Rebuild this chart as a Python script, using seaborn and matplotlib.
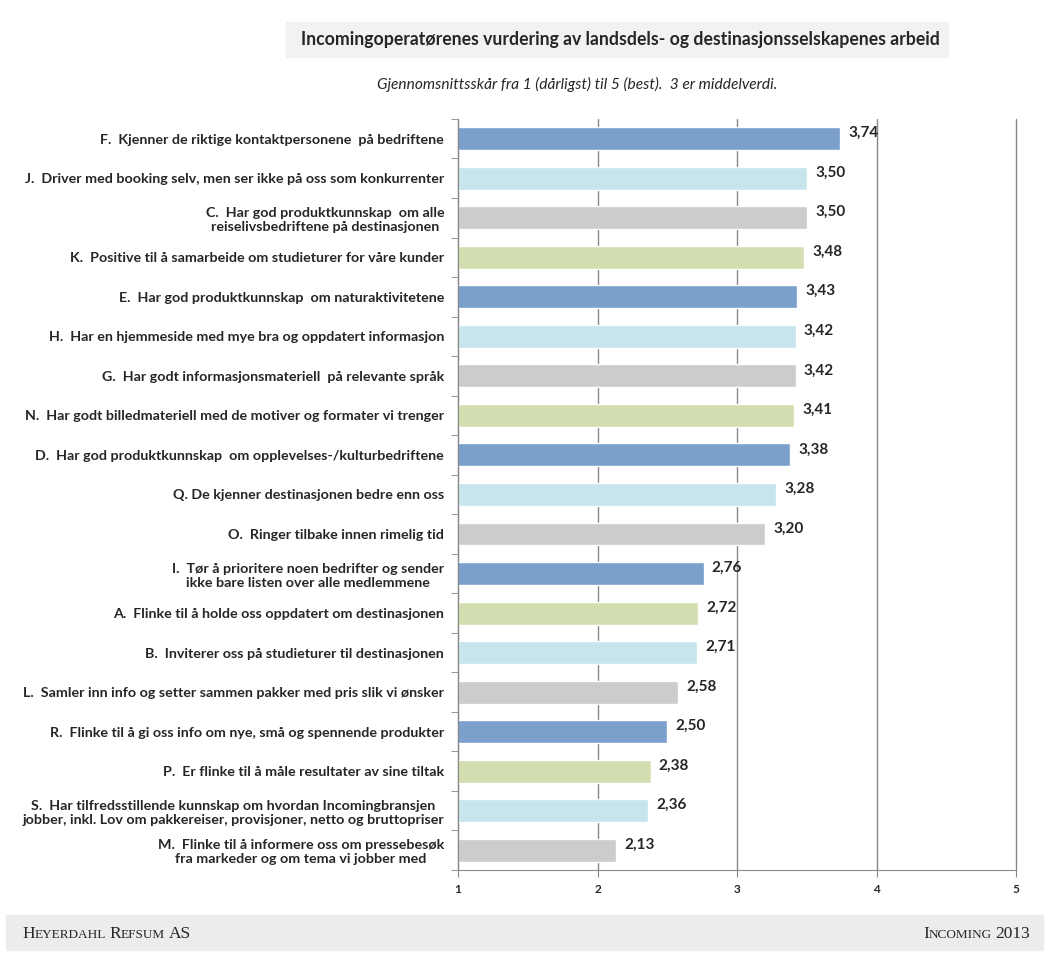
import matplotlib.pyplot as plt
from matplotlib.patches import Rectangle
from matplotlib.ticker import FixedLocator
import seaborn as sns
import pandas as pd
import numpy as np

labels = [
    "F.  Kjenner de riktige kontaktpersonene  på bedriftene",
    "J.  Driver med booking selv, men ser ikke på oss som konkurrenter",
    "C.  Har god produktkunnskap  om alle\nreiselivsbedriftene på destinasjonen",
    "K.  Positive til å samarbeide om studieturer for våre kunder",
    "E.  Har god produktkunnskap  om naturaktivitetene",
    "H.  Har en hjemmeside med mye bra og oppdatert informasjon",
    "G.  Har godt informasjonsmateriell  på relevante språk",
    "N.  Har godt billedmateriell med de motiver og formater vi trenger",
    "D.  Har god produktkunnskap  om opplevelses-/kulturbedriftene",
    "Q. De kjenner destinasjonen bedre enn oss",
    "O.  Ringer tilbake innen rimelig tid",
    "I.  Tør å prioritere noen bedrifter og sender\nikke bare listen over alle medlemmene",
    "A.  Flinke til å holde oss oppdatert om destinasjonen",
    "B.  Inviterer oss på studieturer til destinasjonen",
    "L.  Samler inn info og setter sammen pakker med pris slik vi ønsker",
    "R.  Flinke til å gi oss info om nye, små og spennende produkter",
    "P.  Er flinke til å måle resultater av sine tiltak",
    "S.  Har tilfredsstillende kunnskap om hvordan Incomingbransjen\njobber, inkl. Lov om pakkereiser, provisjoner, netto og bruttopriser",
    "M.  Flinke til å informere oss om pressebesøk\nfra markeder og om tema vi jobber med",
]
scores = [3.74, 3.50, 3.50, 3.48, 3.43, 3.42, 3.42, 3.41, 3.38, 3.28,
          3.20, 2.76, 2.72, 2.71, 2.58, 2.50, 2.38, 2.36, 2.13]
bar_colors = ["#7AA0CB", "#C6E5EC", "#CCCCCC", "#D3DFB1",
              "#7AA0CB", "#C6E5EC", "#CCCCCC", "#D3DFB1",
              "#7AA0CB", "#C6E5EC", "#CCCCCC",
              "#7AA0CB", "#D3DFB1", "#C6E5EC", "#CCCCCC",
              "#7AA0CB", "#D3DFB1", "#C6E5EC", "#CCCCCC"]

df = pd.DataFrame({"label": labels, "score": scores})

sns.set_style("white")
plt.rcParams["font.family"] = ["Lato", "DejaVu Sans"]

fig = plt.figure(figsize=(10.51, 9.67), dpi=100)
ax = fig.add_axes([0.4358, 0.1003, 0.5309, 0.7767])

sns.barplot(data=df, x="score", y="label", hue="label", palette=bar_colors,
            saturation=1, legend=False, width=0.58, ax=ax, zorder=2)

ax.set_xlim(1, 5)
ax.set_ylim(len(labels) - 0.5, -0.5)
ax.set_xticks([1, 2, 3, 4, 5])
ax.set_xticklabels(["1", "2", "3", "4", "5"], fontsize=8.5, fontweight="bold")
ax.grid(axis="x", color="#888888", linewidth=1, zorder=0)
for gl in ax.get_xgridlines():
    gl.set_clip_on(False)
ax.set_axisbelow(True)
ax.set_xlabel("")
ax.set_ylabel("")
ax.tick_params(axis="y", length=0, pad=10)
for t in ax.get_yticklabels():
    t.set_fontsize(10.3)
    t.set_fontweight("bold")
    t.set_multialignment("center")
ax.yaxis.set_minor_locator(FixedLocator(np.arange(-0.5, len(labels))))
ax.tick_params(axis="y", which="minor", left=True, length=5, color="#888888")
ax.tick_params(axis="x", bottom=True, length=5, color="#888888", pad=5)
for side in ["top", "right"]:
    ax.spines[side].set_visible(False)
for side in ["left", "bottom"]:
    ax.spines[side].set_color("#888888")

for i, v in enumerate(scores):
    ax.annotate(f"{v:.2f}".replace(".", ","), (v, i), xytext=(6, 4),
                textcoords="offset points", va="center", ha="left",
                fontsize=11, fontweight="bold")

# title band
fig.patches.append(Rectangle((286 / 1051, 1 - 57 / 967), 662 / 1051, 35 / 967,
                             transform=fig.transFigure, color="#F2F2F2", zorder=0))
fig.text(620 / 1051, 1 - 40 / 967,
         "Incomingoperatørenes vurdering av landsdels- og destinasjonsselskapenes arbeid",
         ha="center", va="center", fontsize=12.7, fontweight="bold")
fig.text(577 / 1051, 1 - 84 / 967,
         "Gjennomsnittsskår fra 1 (dårligst) til 5 (best).  3 er middelverdi.",
         ha="center", va="center", fontsize=11.2, style="italic")

# footer band
fig.patches.append(Rectangle((6 / 1051, 1 - 950 / 967), 1037 / 1051, 35 / 967,
                             transform=fig.transFigure, color="#ECECEC", zorder=0))

renderer = fig.canvas.get_renderer()


def small_caps(x_px, y_px, words, align="left"):
    parts = []
    for w in words:
        if w.isupper() or w.isdigit():
            parts.append((w, 12.5))
        else:
            parts.append((w[0], 12.5))
            parts.append((w[1:].upper(), 9.5))
        parts.append((" ", 9.5))
    parts = parts[:-1]
    texts = [fig.text(0, 1 - y_px / 967, s, fontsize=fs, va="baseline",
                      family="Liberation Serif") for s, fs in parts]
    widths = [t.get_window_extent(renderer).width for t in texts]
    x = x_px if align == "left" else x_px - sum(widths)
    for t, w in zip(texts, widths):
        t.set_x(x / 1051)
        x += w


small_caps(22, 938, ["Heyerdahl", "Refsum", "AS"])
small_caps(1030, 938, ["Incoming", "2013"], align="right")

fig.savefig("out.png", dpi=100)
